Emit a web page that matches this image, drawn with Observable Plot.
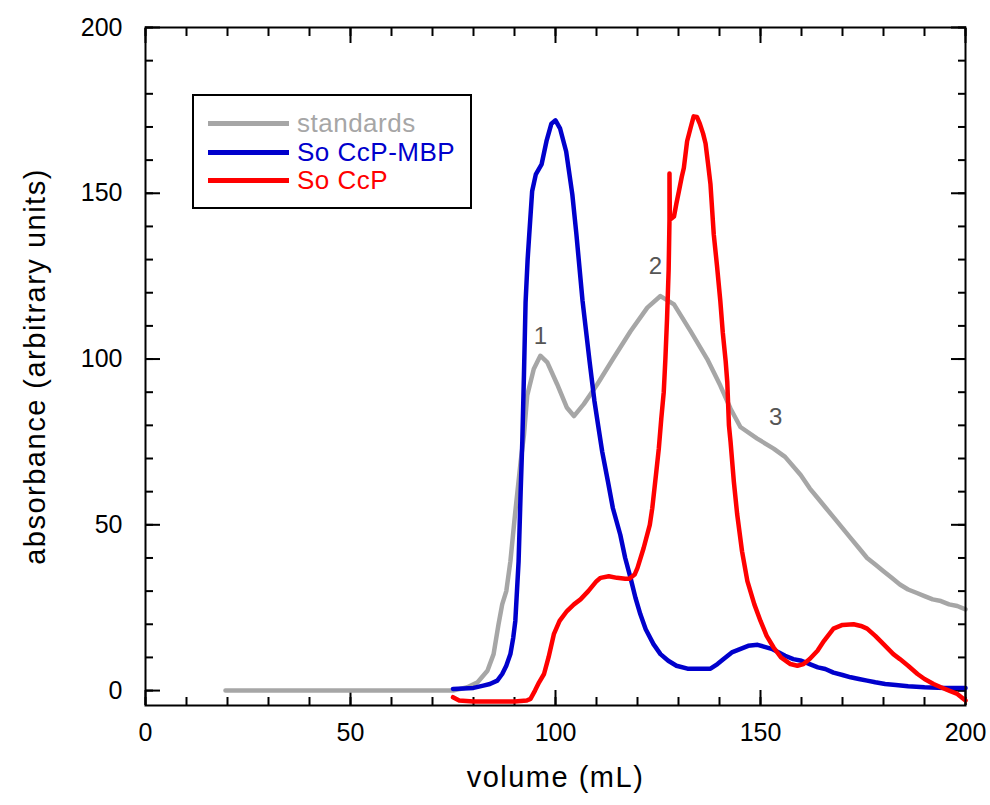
<!DOCTYPE html>
<html>
<head>
<meta charset="utf-8">
<script src="https://cdn.jsdelivr.net/npm/d3@7"></script>
<script src="https://cdn.jsdelivr.net/npm/@observablehq/plot@0.6"></script>
<style>
  html, body { margin: 0; padding: 0; background: #fff; }
  #wrap { position: relative; width: 990px; height: 805px; font-family: "Liberation Sans", Arial, sans-serif; }
  #legend { position: absolute; left: 192px; top: 94px; width: 276px; height: 111px; border: 2px solid #000; background: #fff; }
  .row { position: absolute; left: 0; height: 0; }
  .swatch { position: absolute; left: 14px; width: 81px; height: 5px; top: -2px; }
  .lab { position: absolute; left: 103px; top: -15px; font-size: 26px; line-height: 30px; white-space: nowrap; letter-spacing: 0.5px; }
</style>
</head>
<body>
<div id="wrap"></div>
<script>
// ---- series names / colours ----
const seriesNames = ["standards", "So CcP-MBP", "So CcP"];
const seriesColors = ["#a6a6a6", "#0000cc", "#ff0000"];

// ---- standards (volume mL, absorbance) ----
const stdVolume = [19.5, 75, 78.5, 81, 83.4, 84.9, 86.1, 87, 88, 89, 90.2, 91.5, 92.3, 93.1, 94.7, 96.3, 98, 100.4, 102.8, 104.5, 106.9, 110.2, 114.2, 118.3, 122.4, 125.6, 128.9, 132.9, 137, 140.2, 142.7, 145.1, 149.2, 153.2, 156, 159.8, 162, 164, 166, 168, 170, 172, 174, 176, 178, 180, 182, 184, 186, 188, 190, 192, 194, 196, 198, 200];
const stdAbs = [0, 0, 1, 2.5, 6, 11, 20, 26, 30, 39, 54, 69, 77, 89, 97, 101, 99, 92.4, 85.3, 82.8, 86.4, 92.4, 100.4, 108.4, 115.5, 119, 116.5, 108.5, 100, 92, 85, 79.5, 76, 73, 70.5, 65, 61, 58, 55, 52, 49, 46, 43, 40, 38, 36, 34, 32, 30.5, 29.5, 28.5, 27.5, 27, 26, 25.5, 24.5];

// ---- So CcP-MBP ----
const mbpVolume = [75, 80, 82.4, 84, 85.8, 87, 88, 89, 89.7, 90.2, 90.6, 91, 91.5, 91.9, 92.3, 92.7, 93.2, 93.6, 94.3, 95.2, 96.6, 97.8, 99, 100, 101.1, 102.6, 104.1, 105.1, 106.6, 108.3, 109.5, 110.4, 111.4, 112.8, 114, 115.8, 117, 118.3, 119.5, 120.7, 122, 123.9, 125.6, 127.5, 129.5, 132.2, 134, 137.8, 139.5, 141, 143, 145, 147, 149.3, 151, 152.7, 154.5, 156, 158, 160, 162, 164, 165.8, 167.8, 170, 172, 174, 176, 178, 180.4, 183, 186, 190, 195, 200];
const mbpAbs = [0.5, 0.8, 1.5, 2, 3, 5, 7.5, 11, 16, 21, 30, 39, 60, 75, 95, 117, 130, 137.6, 150.6, 155.7, 158.7, 165.7, 171, 172, 169.6, 162.6, 149.7, 137.6, 117.5, 99.4, 87.3, 80, 72, 63, 55, 47, 40, 34, 28, 23, 18.5, 14, 11, 9, 7.5, 6.6, 6.6, 6.6, 8, 9.5, 11.5, 12.5, 13.5, 13.8, 13.2, 12.6, 11.5, 10.5, 9.5, 9, 8, 7, 6.5, 5.4, 4.7, 4, 3.5, 3, 2.5, 2, 1.7, 1.3, 1, 0.8, 0.8];

// ---- So CcP ----
const ccpVolume = [75, 76.5, 80, 85, 90, 93, 93.9, 95, 96, 97.2, 98.3, 99.6, 101, 102.8, 104.5, 106.1, 108, 110, 111, 113, 115, 117, 118, 119.3, 120, 121.5, 123, 123.6, 124.5, 125.2, 125.8, 126.4, 126.8, 127.2, 127.6, 127.8, 127.8, 127.9, 128.9, 129.5, 130.1, 130.8, 131.3, 132.1, 133, 133.7, 134.5, 135.2, 136, 136.6, 137.2, 137.8, 138.6, 139.4, 140.2, 140.8, 141.5, 141.9, 142.3, 142.7, 143.5, 144.3, 145.5, 146.8, 148.5, 150, 151.5, 153.2, 155, 157.3, 159, 160.5, 162, 163.9, 165.5, 167.8, 170, 172.7, 174.5, 176, 178, 180, 182.4, 184, 186, 188.3, 190, 192.2, 194, 196, 198, 200];
const ccpAbs = [-2, -3, -3.3, -3.3, -3.3, -3, -2.5, 0, 2.5, 5, 10, 17, 21, 24, 26, 27.5, 30, 33, 34, 34.5, 34, 33.7, 33.7, 35, 37, 43, 50, 55, 65, 73, 82, 90, 100, 112, 127, 142, 156, 142, 143, 147, 150.6, 155, 157.6, 165.7, 170, 173.2, 173, 171, 168, 165, 159, 152.7, 137.6, 128, 117.5, 108, 99.4, 93, 80, 75, 63, 53.3, 42, 33, 26, 21, 16.5, 13, 10, 8, 7.5, 8, 9.5, 12, 15, 18.7, 19.8, 20, 19.5, 18.7, 16.5, 14, 11, 9.5, 7.5, 5, 3.5, 2, 1, 0, -1, -3];

// ---- peak annotations ----
const peakText = ["1", "2", "3"];
const peakVolume = [96.3, 124.4, 153.7];
const peakAbs = [104.5, 125.6, 80.1];

// ---- ticks ----
const xMajor = [0, 50, 100, 150, 200];
const xMinor = d3.range(0, 201, 10);
const yMajor = [0, 50, 100, 150, 200];
const yMinor = d3.range(0, 201, 10);

// build tables
const seriesVol = [stdVolume, mbpVolume, ccpVolume];
const seriesAbs = [stdAbs, mbpAbs, ccpAbs];
const rows = [];
seriesNames.forEach((name, s) => {
  seriesVol[s].forEach((v, i) => rows.push({series: name, volume: v, absorbance: seriesAbs[s][i], order: i}));
});
const peaks = peakText.map((t, i) => ({t, x: peakVolume[i], y: peakAbs[i]}));

const font = 25;
const chart = Plot.plot({
  width: 990,
  height: 805,
  marginLeft: 145,
  marginRight: 25,
  marginTop: 27,
  marginBottom: 100,
  style: {fontFamily: '"Liberation Sans", Arial, sans-serif', background: "white", color: "black"},
  x: {domain: [0, 200]},
  y: {domain: [-4.5, 200]},
  color: {domain: seriesNames, range: seriesColors},
  marks: [
    // inward ticks on all four sides
    Plot.axisX({anchor: "bottom", ticks: xMinor, tickSize: -8, text: null, label: null, strokeWidth: 2}),
    Plot.axisX({anchor: "bottom", ticks: xMajor, tickSize: -15, text: null, label: null, strokeWidth: 2}),
    Plot.axisX({anchor: "top", ticks: xMinor, tickSize: -8, text: null, label: null, strokeWidth: 2}),
    Plot.axisX({anchor: "top", ticks: xMajor, tickSize: -15, text: null, label: null, strokeWidth: 2}),
    Plot.axisY({anchor: "left", ticks: yMinor, tickSize: -8, text: null, label: null, strokeWidth: 2}),
    Plot.axisY({anchor: "left", ticks: yMajor, tickSize: -15, text: null, label: null, strokeWidth: 2}),
    Plot.axisY({anchor: "right", ticks: yMinor, tickSize: -8, text: null, label: null, strokeWidth: 2}),
    Plot.axisY({anchor: "right", ticks: yMajor, tickSize: -15, text: null, label: null, strokeWidth: 2}),
    // tick labels
    Plot.axisX({anchor: "bottom", ticks: xMajor, tickSize: 0, tickPadding: 18, fontSize: font, label: null, tickFormat: d => String(d)}),
    Plot.axisY({anchor: "left", ticks: yMajor, tickSize: 0, tickPadding: 23, fontSize: font, label: null, tickFormat: d => String(d)}),
    // data lines
    Plot.line(rows, {x: "volume", y: "absorbance", z: "series", stroke: "series", strokeWidth: 4.5, curve: "linear", strokeLinejoin: "round"}),
    // peak labels
    Plot.text(peaks, {x: "x", y: "y", text: "t", fill: "#555", fontSize: 24, lineAnchor: "bottom"}),
    // axis titles
    Plot.text(["volume (mL)"], {frameAnchor: "bottom", dy: 72, fontSize: 29, fill: "black", text: d => d, textAnchor: "middle", lineAnchor: "middle"}),
    Plot.text(["absorbance (arbitrary units)"], {frameAnchor: "left", dx: -110, rotate: -90, fontSize: 29, fill: "black", text: d => d, textAnchor: "middle", lineAnchor: "middle"}),
    Plot.frame({stroke: "black", strokeWidth: 2})
  ]
});

const wrap = document.getElementById("wrap");
wrap.appendChild(chart);
chart.style.position = "absolute";
chart.style.left = "0";
chart.style.top = "0";
chart.querySelectorAll("text").forEach(t => {
  const s = t.textContent;
  if (s === "volume (mL)" || s === "absorbance (arbitrary units)") t.setAttribute("letter-spacing", "1.5px");
});

// legend
const legendRowY = [27, 56, 84];
const legend = document.createElement("div");
legend.id = "legend";
seriesNames.forEach((name, i) => {
  const row = document.createElement("div");
  row.className = "row";
  row.style.top = legendRowY[i] + "px";
  const sw = document.createElement("div");
  sw.className = "swatch";
  sw.style.background = seriesColors[i];
  const lab = document.createElement("div");
  lab.className = "lab";
  lab.style.color = seriesColors[i];
  lab.textContent = name;
  row.appendChild(sw);
  row.appendChild(lab);
  legend.appendChild(row);
});
wrap.appendChild(legend);
</script>
</body>
</html>
